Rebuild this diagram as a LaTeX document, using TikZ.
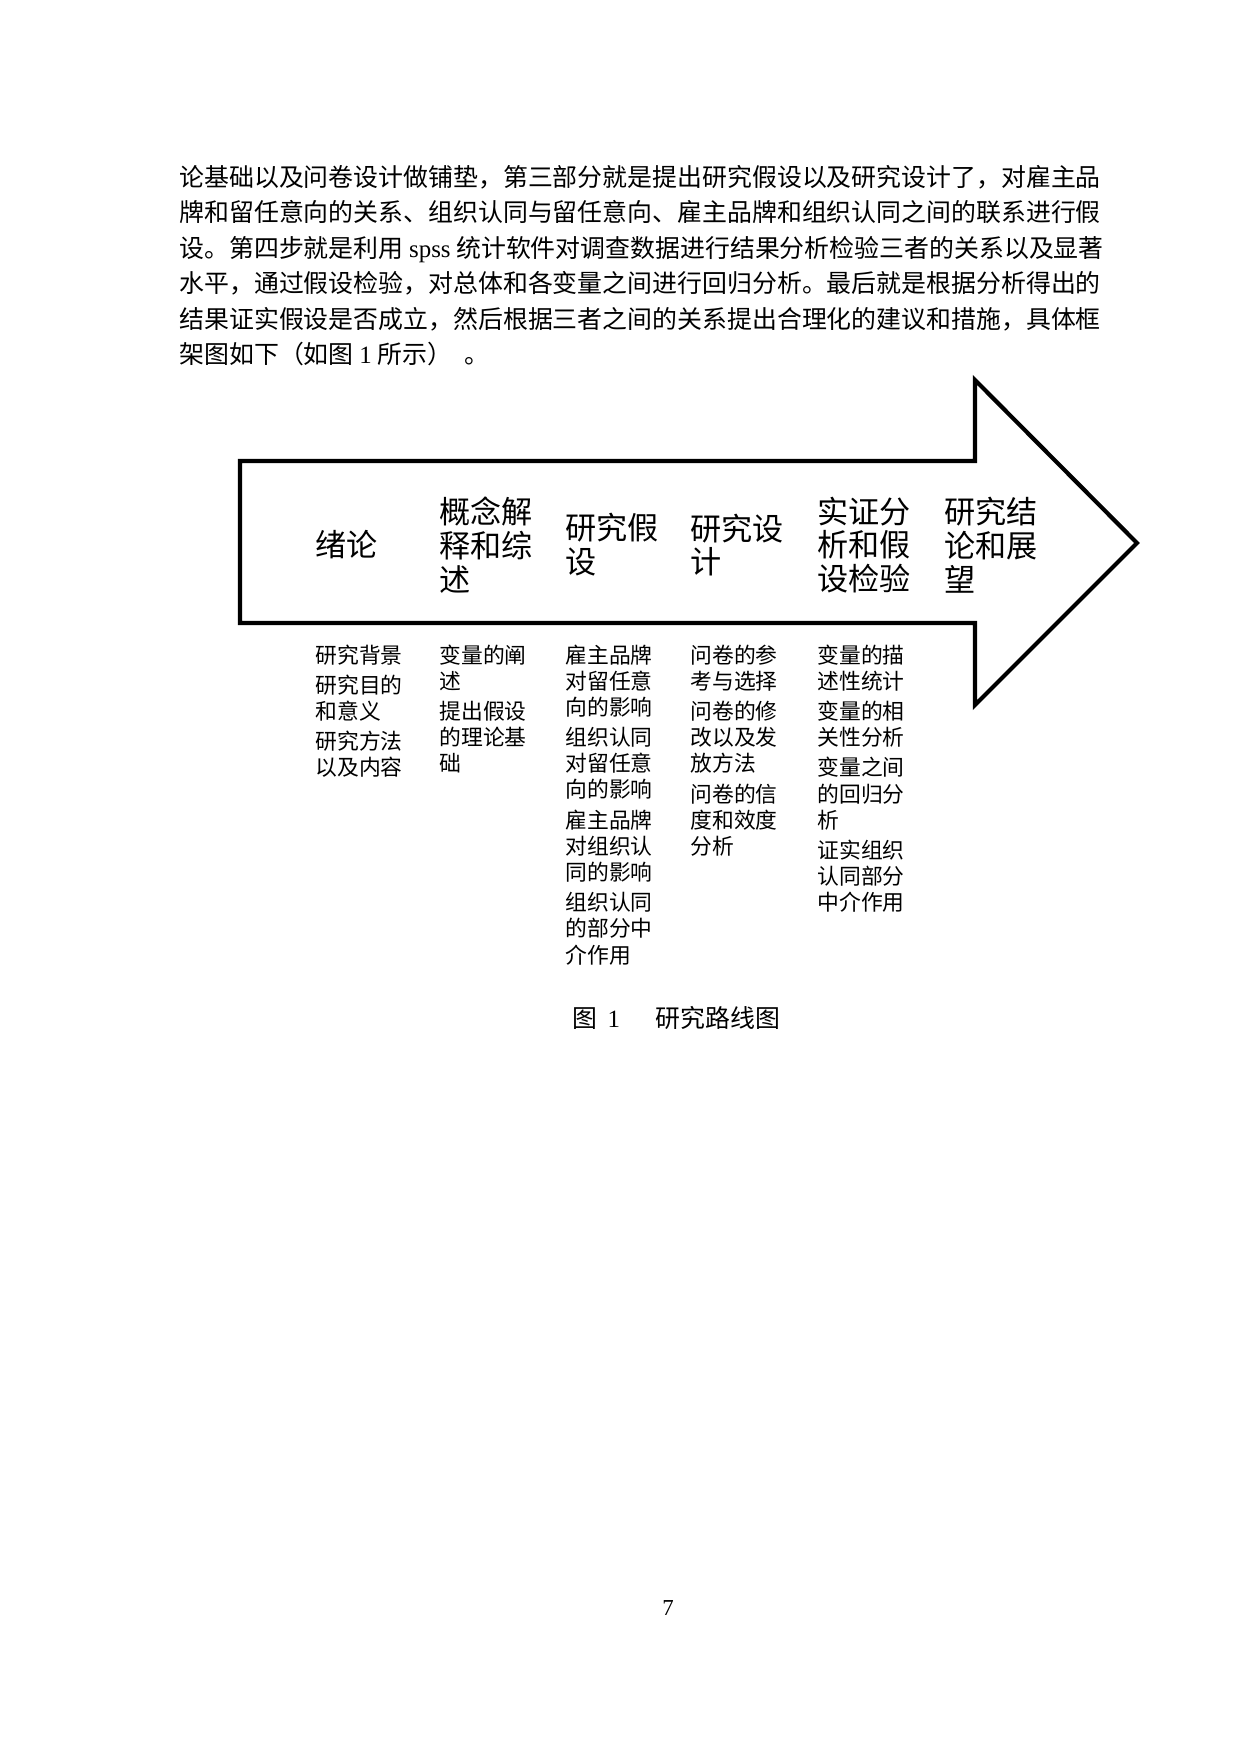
\documentclass[tikz,border=0pt]{standalone}
\usepackage{fontspec}
\setmainfont{Liberation Serif}
\newfontfamily\cjk{Noto Sans CJK SC}
\tikzset{
  bodyline/.style={anchor=base west, inner sep=0pt, font=\cjk\fontsize{12}{17}\selectfont},
  stagelabel/.style={anchor=west, inner sep=0pt, text width=48pt, align=left, font=\cjk\fontsize{15}{16.3}\selectfont},
  stagenote/.style={anchor=base west, inner sep=0pt, text width=44pt, align=left, font=\cjk\fontsize{10.5}{12.6}\selectfont},
  flowarrow/.style={line width=2pt, line join=miter}
}
\newcommand{\notegap}{\\[2pt]}

\begin{document}
\begin{tikzpicture}[x=0.16935mm, y=-0.16935mm]
          \useasboundingbox (0,0) rectangle (1240,1754);
          % text above the figure
          \node[bodyline] (line1) at (179,186) {论基础以及问卷设计做铺垫，第三部分就是提出研究假设以及研究设计了，对雇主品};
          \node[bodyline] (line2) at (179,221.5) {牌和留任意向的关系、组织认同与留任意向、雇主品牌和组织认同之间的联系进行假};
          \node[bodyline] (line3) at (179,257) {设。第四步就是利用 {\rmfamily spss} 统计软件对调查数据进行结果分析检验三者的关系以及显著};
          \node[bodyline] (line4) at (179,292.5) {水平，通过假设检验，对总体和各变量之间进行回归分析。最后就是根据分析得出的};
          \node[bodyline] (line5) at (179,328) {结果证实假设是否成立，然后根据三者之间的关系提出合理化的建议和措施，具体框};
          \node[bodyline] (line6) at (179,363.5) {架图如下（如图 {\rmfamily 1} 所示）\hspace{6pt}。};
          % big arrow
          \draw[flowarrow] (240,461) -- (975,461) -- (975,380) -- (1137,543) -- (975,705) -- (975,623) -- (240,623) -- cycle;
          % stages inside the arrow
          \node[stagelabel] (intro) at (315,545) {绪论};
          \node[stagelabel] (concept) at (439,545) {概念解\\释和综\\述};
          \node[stagelabel] (hypo) at (565,545) {研究假\\设};
          \node[stagelabel] (design) at (690,545) {研究设\\计};
          \node[stagelabel] (test) at (817,545) {实证分\\析和假\\设检验};
          \node[stagelabel] (result) at (944,545) {研究结\\论和展\\望};
          % notes under the arrow
          \node[stagenote] (introNote) at (315,663) {研究背景\notegap 研究目的\\和意义\notegap 研究方法\\以及内容};
          \node[stagenote] (conceptNote) at (439,663) {变量的阐\\述\notegap 提出假设\\的理论基\\础};
          \node[stagenote] (hypoNote) at (565,663) {雇主品牌\\对留任意\\向的影响\notegap 组织认同\\对留任意\\向的影响\notegap 雇主品牌\\对组织认\\同的影响\notegap 组织认同\\的部分中\\介作用};
          \node[stagenote] (designNote) at (690,663) {问卷的参\\考与选择\notegap 问卷的修\\改以及发\\放方法\notegap 问卷的信\\度和效度\\分析};
          \node[stagenote] (testNote) at (817,663) {变量的描\\述性统计\notegap 变量的相\\关性分析\notegap 变量之间\\的回归分\\析\notegap 证实组织\\认同部分\\中介作用};
          % caption and page number
          \node[anchor=west, inner sep=0pt, font=\cjk\fontsize{12}{14}\selectfont] (caption) at (572,1018) {图\hspace{5pt}{\rmfamily 1}\hspace{17pt}研究路线图};
          \node[inner sep=0pt, font=\fontsize{11}{13}\selectfont] (pageno) at (668,1608) {7};
\end{tikzpicture}
\end{document}
